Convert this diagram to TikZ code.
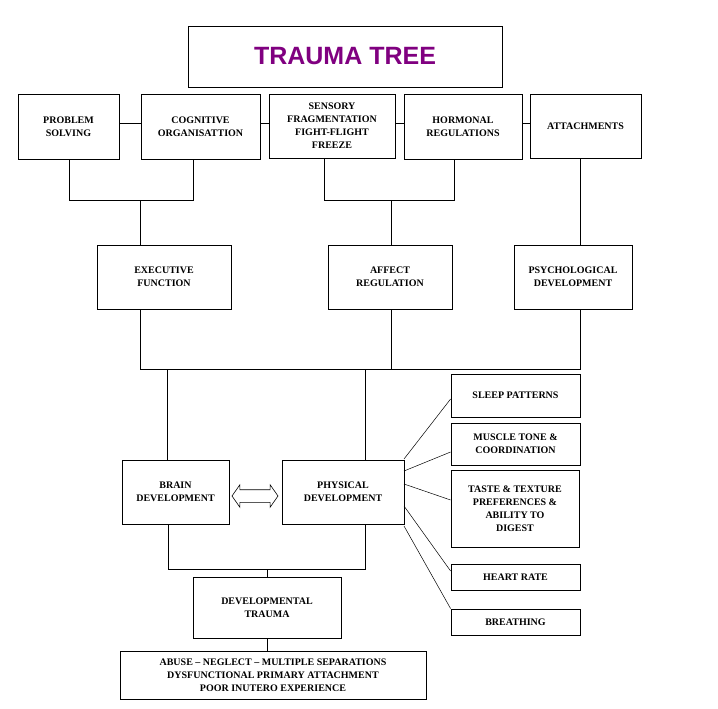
\documentclass[tikz,border=0pt]{standalone}
\usepackage{fontspec}
\setmainfont{Liberation Serif}
\newfontfamily\titlefont{Liberation Sans}
\usetikzlibrary{shapes.arrows}
\definecolor{ttl}{RGB}{128,0,128}
\begin{document}
\begin{tikzpicture}[x=1pt,y=-1pt,line width=0.8pt,
  bx/.style={draw,inner sep=0pt,align=center,font=\bfseries\fontsize{10}{13}\selectfont}]
\useasboundingbox (0,0) rectangle (718,709);
\newcommand{\bxat}[6]{\node[bx,minimum width=#4-#2,minimum height=#5-#3] (#1) at ({(#2+#4)/2},{(#3+#5)/2}) {#6};}
\node[draw,inner sep=0pt,minimum width=314,minimum height=61,font=\titlefont\bfseries\fontsize{25}{30}\selectfont,text=ttl] (title) at (345,56.5) {TRAUMA TREE};
\bxat{ps}{18}{94}{119}{159}{PROBLEM\\SOLVING}
\bxat{co}{141}{94}{260}{159}{COGNITIVE\\ORGANISATTION}
\bxat{sf}{269}{94}{395}{158}{SENSORY\\FRAGMENTATION\\FIGHT-FLIGHT\\FREEZE}
\bxat{hr}{404}{94}{522}{159}{HORMONAL\\REGULATIONS}
\bxat{at}{530}{94}{641}{158}{ATTACHMENTS}
\bxat{ef}{97}{245}{231}{309}{EXECUTIVE\\FUNCTION}
\bxat{ar}{328}{245}{452}{309}{AFFECT\\REGULATION}
\bxat{pd}{514}{245}{632}{309}{PSYCHOLOGICAL\\DEVELOPMENT}
\bxat{bd}{122}{460}{229}{524}{BRAIN\\DEVELOPMENT}
\bxat{phd}{282}{460}{404}{524}{PHYSICAL\\DEVELOPMENT}
\bxat{dt}{193}{577}{341}{638}{DEVELOPMENTAL\\TRAUMA}
\bxat{ab}{120}{651}{426}{699}{ABUSE -- NEGLECT -- MULTIPLE SEPARATIONS\\DYSFUNCTIONAL PRIMARY ATTACHMENT\\POOR INUTERO EXPERIENCE}
\bxat{sp}{451}{374}{580}{417}{SLEEP PATTERNS}
\bxat{mt}{451}{423}{580}{465}{MUSCLE TONE \&\\COORDINATION}
\bxat{tt}{451}{470}{579}{547}{TASTE \& TEXTURE\\PREFERENCES \&\\ABILITY TO\\DIGEST}
\bxat{hrt}{451}{564}{580}{590}{HEART RATE}
\bxat{br}{451}{609}{580}{635}{BREATHING}
\draw (ps.east|-0,123) -- (co.west|-0,123);
\draw (co.east|-0,123) -- (sf.west|-0,123);
\draw (sf.east|-0,123) -- (hr.west|-0,123);
\draw (hr.east|-0,123) -- (at.west|-0,123);
\coordinate (j1) at (69,200); \coordinate (j2) at (193,200);
\coordinate (j3) at (324,200); \coordinate (j4) at (454,200);
\draw (ps.south-|j1) -- (j1) -- (j2) -- (co.south-|j2);
\draw (140,200) -- (ef.north-|140,0);
\draw (sf.south-|j3) -- (j3) -- (j4) -- (hr.south-|j4);
\draw (391,200) -- (ar.north-|391,0);
\draw (at.south-|580,0) -- (pd.north-|580,0);
\coordinate (k1) at (140,369); \coordinate (k3) at (580,369);
\draw (ef.south-|k1) -- (k1) -- (k3) -- (pd.south-|k3);
\draw (ar.south-|391,0) -- (391,369);
\draw (167,369) -- (bd.north-|167,0);
\draw (365,369) -- (phd.north-|365,0);
\coordinate (m1) at (168,569); \coordinate (m2) at (365,569);
\draw (bd.south-|m1) -- (m1) -- (m2) -- (phd.south-|m2);
\draw (267,569) -- (dt.north-|267,0);
\draw (dt.south-|267,0) -- (ab.north-|267,0);
\node[draw,double arrow,double arrow head extend=5pt,double arrow tip angle=110,minimum height=46,inner xsep=0pt,inner ysep=6pt,line width=0.6pt] (arr) at (255,496) {};
\draw[line width=0.5pt] (404,459) -- (sp.west|-0,399);
\draw[line width=0.5pt] (404,471) -- (mt.west|-0,452);
\draw[line width=0.5pt] (404,484) -- (tt.west|-0,500);
\draw[line width=0.5pt] (404,506) -- (hrt.west|-0,571);
\draw[line width=0.5pt] (404,526) -- (br.north west);
\end{tikzpicture}
\end{document}
